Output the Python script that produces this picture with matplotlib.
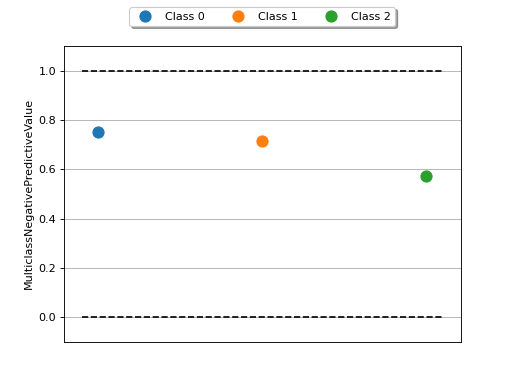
import matplotlib

matplotlib.use("Agg")
import matplotlib.pyplot as plt

classes = ["Class 0", "Class 1", "Class 2"]
values = [0.752, 0.715, 0.573]
colors = ["tab:blue", "tab:orange", "tab:green"]
bounds = [0.0, 1.0]

fig, ax = plt.subplots(figsize=(6.4, 4.8), dpi=80)

for i, (name, v) in enumerate(zip(classes, values)):
    ax.plot([i], [v], "o", color=colors[i], markersize=10, label=name)

for b in bounds:
    ax.plot([-0.1, len(classes) - 0.9], [b, b], "k--")

ax.set_ylim(-0.1, 1.1)
ax.set_xticks([])
ax.set_ylabel("MulticlassNegativePredictiveValue")
ax.yaxis.grid(True)
ax.legend(loc="upper center", bbox_to_anchor=(0.5, 1.15), ncol=3,
          fancybox=True, shadow=True)

fig.savefig("out.png", dpi=80)
